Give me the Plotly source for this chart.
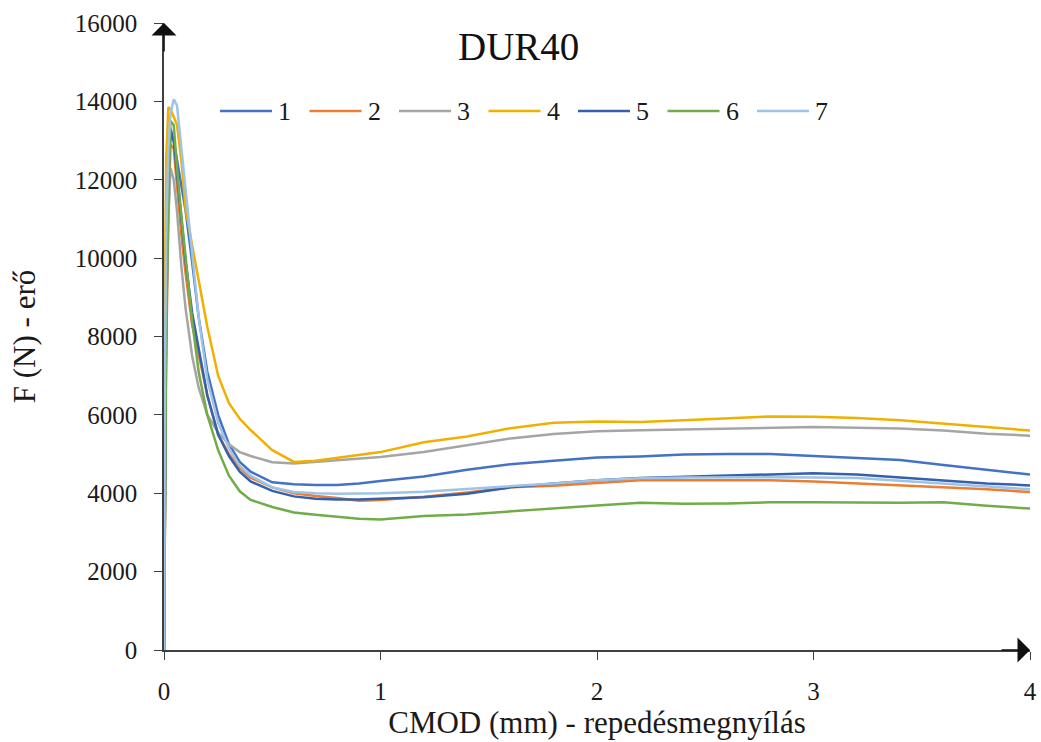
import plotly.graph_objects as go

cmod = [0, 0.004, 0.01, 0.02, 0.03, 0.045, 0.06, 0.08, 0.1, 0.13, 0.16, 0.2, 0.25, 0.3, 0.35, 0.4,
        0.5, 0.6, 0.7, 0.8, 0.9, 1.0, 1.2, 1.4, 1.6, 1.8, 2.0, 2.2, 2.4, 2.6, 2.8, 3.0, 3.2, 3.4,
        3.6, 3.8, 4.0]

f1 = [0, 5000, 9000, 12000, 13100, 13000, 12500, 11900, 11200, 9900, 8500, 7100, 6000, 5250, 4800, 4550,
      4280, 4230, 4210, 4210, 4250, 4310, 4430, 4600, 4740, 4830, 4910, 4940, 4990, 5000, 5000, 4950,
      4900, 4850, 4720, 4600, 4480]
f2 = [0, 3000, 7500, 11000, 12900, 12800, 11800, 10600, 9600, 8300, 7550, 6500, 5500, 5000, 4650, 4400,
      4150, 4000, 3930, 3880, 3810, 3830, 3910, 4020, 4150, 4190, 4260, 4330, 4330, 4330, 4330, 4300,
      4250, 4185, 4150, 4100, 4030]
f3 = [0, 5000, 8500, 11000, 12300, 12000, 11200, 9800, 8700, 7500, 6700, 6000, 5550, 5250, 5050, 4950,
      4790, 4760, 4800, 4850, 4880, 4925, 5050, 5220, 5400, 5510, 5580, 5610, 5630, 5660, 5680, 5690,
      5670, 5650, 5600, 5520, 5470]
f4 = [0, 9000, 12500, 13850, 13800, 13600, 13400, 12500, 11250, 10330, 9400, 8250, 7000, 6300, 5900, 5614,
      5100, 4800, 4830, 4900, 4980, 5050, 5300, 5450, 5660, 5800, 5830, 5820, 5860, 5910, 5960, 5950,
      5920, 5860, 5780, 5690, 5600]
f5 = [0, 4000, 8500, 12000, 13300, 13000, 12200, 11000, 9900, 8600, 7656, 6500, 5500, 4950, 4550, 4300,
      4060, 3920, 3860, 3840, 3840, 3860, 3900, 3990, 4150, 4250, 4330, 4390, 4420, 4450, 4470, 4510,
      4480, 4400, 4320, 4250, 4200]
f6 = [0, 4000, 8000, 11500, 13500, 13400, 12300, 11100, 10000, 8400, 7100, 6000, 5100, 4450, 4050, 3830,
      3650, 3510, 3450, 3400, 3350, 3330, 3420, 3460, 3540, 3610, 3690, 3760, 3730, 3740, 3770, 3770,
      3760, 3760, 3770, 3680, 3610]
f7 = [0, 7000, 10500, 12800, 13700, 14050, 13900, 12800, 11800, 10200, 8500, 6900, 5800, 5150, 4700, 4450,
      4150, 4030, 4000, 3990, 3990, 4000, 4040, 4110, 4170, 4250, 4330, 4380, 4400, 4410, 4410, 4400,
      4390, 4320, 4250, 4170, 4100]

series_names = ["1", "2", "3", "4", "5", "6", "7"]
series_values = [f1, f2, f3, f4, f5, f6, f7]
colors = ["#4472C4", "#ED7D31", "#A5A5A5", "#F0B000", "#3560B0", "#70AD47", "#9DC3E6"]

x_ticks = [0, 1, 2, 3, 4]
y_ticks = list(range(0, 16001, 2000))
y_tick_text = [str(v) for v in y_ticks]

FONT = "Liberation Serif, Times New Roman, serif"
AX = "#404040"

fig = go.Figure()
for name, vals, col in zip(series_names, series_values, colors):
    fig.add_trace(go.Scatter(x=cmod, y=vals, mode="lines", name=name,
                             line=dict(color=col, width=2.5), showlegend=False))

# plot area in pixels
L, R, T, B = 164, 1030, 23, 650
W, H = R - L, B - T

def px(xp):
    return (xp - L) / W

def py(yp):
    return (B - yp) / H

# manual legend
leg_x0 = 220
leg_step = 89.5
leg_y = 111
for i, (name, col) in enumerate(zip(series_names, colors)):
    x0 = leg_x0 + i * leg_step
    fig.add_shape(type="line", xref="paper", yref="paper",
                  x0=px(x0), x1=px(x0 + 52), y0=py(leg_y), y1=py(leg_y),
                  line=dict(color=col, width=2.5))
    fig.add_annotation(xref="paper", yref="paper", x=px(x0 + 56), y=py(leg_y),
                       xanchor="left", yanchor="middle", text=name, showarrow=False,
                       font=dict(family=FONT, size=26, color="#1a1a1a"))

# title
fig.add_annotation(xref="paper", yref="paper", x=px(518), y=py(47), text="DUR40",
                   showarrow=False, xanchor="center", yanchor="middle",
                   font=dict(family=FONT, size=39, color="#111111"))

# axis arrows
fig.add_annotation(x=0, y=16000, ax=0, ay=30, xref="x", yref="y",
                   text="", showarrow=True, arrowhead=1, arrowsize=2.6, arrowwidth=1.6, arrowcolor="#111111")
fig.add_annotation(x=4, y=0, ax=-30, ay=0, xref="x", yref="y",
                   text="", showarrow=True, arrowhead=1, arrowsize=2.6, arrowwidth=1.6, arrowcolor="#111111")

fig.update_layout(
    width=1041, height=742,
    margin=dict(l=L, r=1041 - R, t=T, b=742 - B),
    paper_bgcolor="white", plot_bgcolor="white",
    font=dict(family=FONT, size=25, color="#1a1a1a"),
)
fig.update_xaxes(range=[0, 4], tickvals=x_ticks, ticks="outside", ticklen=8, tickwidth=1.3,
                 tickcolor=AX, showline=True, linecolor=AX, linewidth=1.6, showgrid=False,
                 zeroline=False, ticklabelstandoff=10, automargin=False,
                 title=dict(text="CMOD (mm) - repedésmegnyílás", font=dict(family=FONT, size=31), standoff=8))
fig.update_yaxes(range=[0, 16000], tickvals=y_ticks, ticktext=y_tick_text, ticks="outside", ticklen=8,
                 tickwidth=1.3, tickcolor=AX, showline=True, linecolor=AX, linewidth=1.6, showgrid=False,
                 zeroline=False, ticklabelstandoff=12, automargin=False,
                 title=dict(text="F (N) - erő", font=dict(family=FONT, size=31), standoff=30))

fig.write_html("out.html")
